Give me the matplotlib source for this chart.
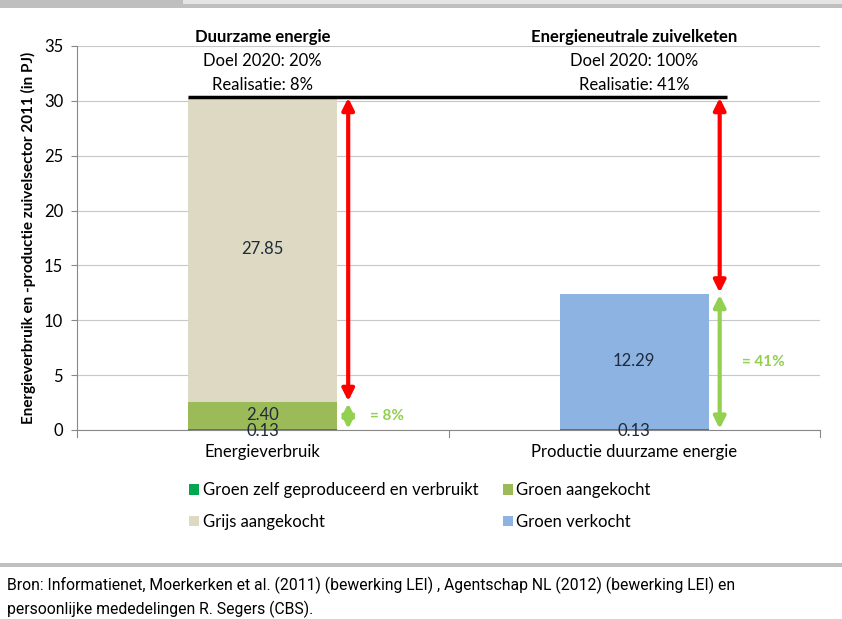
import numpy as np
import matplotlib.pyplot as plt
from matplotlib.patches import Rectangle, FancyArrowPatch

plt.rcParams['font.family'] = ['Lato', 'DejaVu Sans']

#DATA
categories = ['Energieverbruik', 'Productie duurzame energie']
series_names = ['Groen zelf geproduceerd en verbruikt', 'Groen aangekocht',
                'Grijs aangekocht', 'Groen verkocht']
zelf = [0.13, 0.13]
aangekocht = [2.40, 0.0]
grijs = [27.85, 0.0]
verkocht = [0.0, 12.29]
colors = ['#00a650', '#9bbb59', '#ddd9c3', '#8db3e2']

headers = ['Duurzame energie', 'Energieneutrale zuivelketen']
doel = ['Doel 2020: 20%', 'Doel 2020: 100%']
realisatie = ['Realisatie: 8%', 'Realisatie: 41%']
aandeel = ['= 8%', '= 41%']

bron = ('Bron: Informatienet, Moerkerken et al. (2011) (bewerking LEI) , '
        'Agentschap NL (2012) (bewerking LEI) en\n'
        'persoonlijke mededelingen R. Segers (CBS).')

fig = plt.figure(figsize=(8.42, 6.19), dpi=100)
ax = fig.add_axes([77/842, 1 - 430/619, (820-77)/842, (430-46)/619])

x = np.arange(len(categories))
w = 0.4
series = [zelf, aangekocht, grijs, verkocht]
bottom = np.zeros(len(categories))
for vals, col, name in zip(series, colors, series_names):
    ax.bar(x, vals, w, bottom=bottom, color=col, label=name, zorder=2)
    bottom = bottom + np.array(vals)
totals = bottom
groen = np.array(zelf) + np.array(aangekocht) + np.array(verkocht)

#bar labels
lab_kw = dict(ha='center', va='center', fontsize=12, color='#1f2a3a', zorder=4)
b = np.zeros(len(categories))
for vals in series:
    for i, v in enumerate(vals):
        if v > 0:
            ypos = b[i] + v/2 if v > 1 else b[i] - 0.05
            ax.text(x[i], ypos, '%.2f' % v, **lab_kw)
    b = b + np.array(vals)

#target line
target = totals[0]
ax.plot([x[0] - w/2, x[1] + w/2 + 0.05], [target, target], color='black',
        lw=2.5, zorder=5, solid_capstyle='butt')

#arrows
ax_x = x + w/2 + 0.03
for i in range(2):
    g = groen[i]
    ax.add_patch(FancyArrowPatch((ax_x[i], g + 0.1), (ax_x[i], target - 0.1),
                                 arrowstyle='<|-|>,head_length=7,head_width=3.5',
                                 color='#ff0000', lw=3, zorder=5, shrinkA=0, shrinkB=0))
    ax.add_patch(FancyArrowPatch((ax_x[i], 0.1), (ax_x[i], g - 0.1),
                                 arrowstyle='<|-|>,head_length=7,head_width=3.5',
                                 color='#92d050', lw=3, zorder=5, shrinkA=0, shrinkB=0))
    ax.text(ax_x[i] + 0.06, g / 2, aandeel[i],
            color='#92d050', fontsize=11, fontweight='bold', va='center', ha='left')

#header texts
for i in range(2):
    ax.text(x[i], 35.8, headers[i], ha='center', va='center', fontsize=12,
            fontweight='bold', clip_on=False)
    ax.text(x[i], 33.6, doel[i], ha='center', va='center', fontsize=12)
    ax.text(x[i], 31.4, realisatie[i], ha='center', va='center', fontsize=12)

ax.set_xlim(-0.5, 1.5)
ax.set_ylim(0, 35)
ax.set_yticks(range(0, 36, 5))
ax.set_xticks(x)
ax.set_xticklabels(categories, fontsize=12)
ax.tick_params(axis='y', labelsize=12, length=4, color='#888888', pad=6)
ax.tick_params(axis='x', length=0, pad=10)
for xb in [-0.5, 0.5, 1.5]:
    ax.plot([xb, xb], [0, -0.6], color='#888888', lw=0.8, clip_on=False)
ax.grid(axis='y', color='#c8c8c8', lw=0.8, zorder=0)
for s in ['top', 'right']:
    ax.spines[s].set_visible(False)
ax.spines['left'].set_color('#888888')
ax.spines['bottom'].set_color('#888888')
ax.set_ylabel('Energieverbruik en -productie zuivelsector 2011 (in PJ)',
              fontsize=11, fontweight='bold', labelpad=6)

handles, labels = ax.get_legend_handles_labels()
order = [0, 2, 1, 3]
fig.legend([handles[k] for k in order], [labels[k] for k in order], ncol=2,
           loc='center', bbox_to_anchor=(420/842, 1 - 506/619),
           frameon=False, fontsize=12, handlelength=0.6, handleheight=0.6,
           handletextpad=0.2, columnspacing=1.5, labelspacing=0.95)

#page decoration
fig.add_artist(Rectangle((0, 1 - 8/619), 1, 8/619, transform=fig.transFigure,
                         color='#bfbfbf', lw=0))
fig.add_artist(Rectangle((183/842, 1 - 4/619), 1, 4/619, transform=fig.transFigure,
                         color='#e4e4e4', lw=0))
fig.add_artist(Rectangle((0, 1 - 567/619), 1, 4/619, transform=fig.transFigure,
                         color='#bfbfbf', lw=0))
fig.text(7/842, 1 - 577/619, bron, ha='left', va='top', fontsize=11.3,
         family=['Roboto', 'DejaVu Sans'], linespacing=1.45)

fig.savefig('out.png', dpi=100)
